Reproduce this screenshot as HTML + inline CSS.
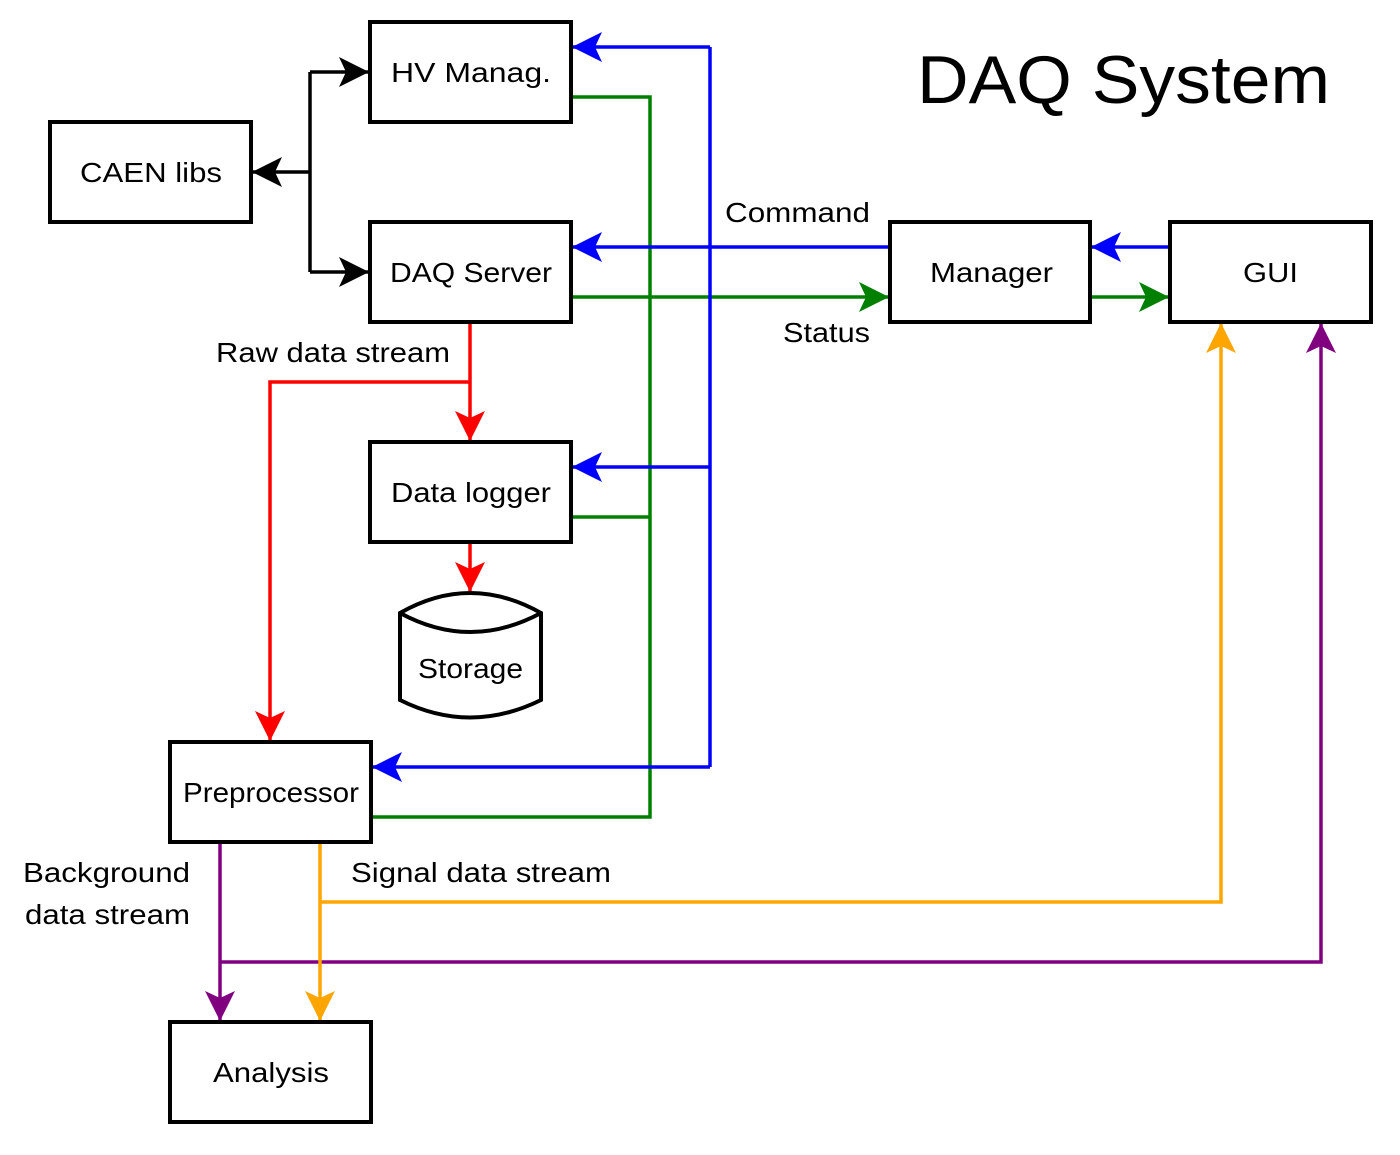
<!DOCTYPE html>
<html><head><meta charset="utf-8"><style>
html,body{margin:0;padding:0;background:#fff;}
svg text{font-family:"Liberation Sans",sans-serif;font-size:28px;fill:#000;}
</style></head><body>
<svg width="1400" height="1150" viewBox="0 0 1400 1150" xmlns="http://www.w3.org/2000/svg">
<defs>
<marker id="ak" viewBox="0 0 30 30" refX="29" refY="15" markerWidth="30" markerHeight="30" markerUnits="userSpaceOnUse" orient="auto"><path d="M0,0 L30,15 L0,30 L7,15 Z" fill="#000"/></marker>
<marker id="ab" viewBox="0 0 30 30" refX="29" refY="15" markerWidth="30" markerHeight="30" markerUnits="userSpaceOnUse" orient="auto"><path d="M0,0 L30,15 L0,30 L7,15 Z" fill="#0000ff"/></marker>
<marker id="ag" viewBox="0 0 30 30" refX="29" refY="15" markerWidth="30" markerHeight="30" markerUnits="userSpaceOnUse" orient="auto"><path d="M0,0 L30,15 L0,30 L7,15 Z" fill="#008000"/></marker>
<marker id="ar" viewBox="0 0 30 30" refX="29" refY="15" markerWidth="30" markerHeight="30" markerUnits="userSpaceOnUse" orient="auto"><path d="M0,0 L30,15 L0,30 L7,15 Z" fill="#ff0000"/></marker>
<marker id="ap" viewBox="0 0 30 30" refX="29" refY="15" markerWidth="30" markerHeight="30" markerUnits="userSpaceOnUse" orient="auto"><path d="M0,0 L30,15 L0,30 L7,15 Z" fill="#800080"/></marker>
<marker id="ao" viewBox="0 0 30 30" refX="29" refY="15" markerWidth="30" markerHeight="30" markerUnits="userSpaceOnUse" orient="auto"><path d="M0,0 L30,15 L0,30 L7,15 Z" fill="#ffa500"/></marker>
</defs>
<g fill="none" stroke-width="3.5">
<g stroke="#000">
<path d="M310,72 L310,272"/>
<path d="M310,172 L253,172" marker-end="url(#ak)"/>
<path d="M310,72 L368,72" marker-end="url(#ak)"/>
<path d="M310,272 L368,272" marker-end="url(#ak)"/>
</g>
<g stroke="#008000">
<path d="M571,97 L650,97 L650,817 L371,817"/>
<path d="M571,517 L650,517"/>
<path d="M571,297 L888,297" marker-end="url(#ag)"/>
<path d="M1090,297 L1168,297" marker-end="url(#ag)"/>
</g>
<g stroke="#0000ff">
<path d="M710,47 L710,767"/>
<path d="M890,247 L573,247" marker-end="url(#ab)"/>
<path d="M710,47 L573,47" marker-end="url(#ab)"/>
<path d="M710,467 L573,467" marker-end="url(#ab)"/>
<path d="M710,767 L373,767" marker-end="url(#ab)"/>
<path d="M1170,247 L1092,247" marker-end="url(#ab)"/>
</g>
<g stroke="#ff0000">
<path d="M470,322 L470,440" marker-end="url(#ar)"/>
<path d="M470,382 L270,382 L270,740" marker-end="url(#ar)"/>
<path d="M470,542 L470,591" marker-end="url(#ar)"/>
</g>
<g stroke="#800080">
<path d="M220,842 L220,1020" marker-end="url(#ap)"/>
<path d="M220,962 L1321,962 L1321,324" marker-end="url(#ap)"/>
</g>
<g stroke="#ffa500">
<path d="M320,842 L320,1020" marker-end="url(#ao)"/>
<path d="M320,902 L1221,902 L1221,324" marker-end="url(#ao)"/>
</g>
</g>
<g fill="#fff" stroke="#000" stroke-width="4">
<rect x="370" y="22" width="201" height="100"/>
<rect x="50" y="122" width="201" height="100"/>
<rect x="370" y="222" width="201" height="100"/>
<rect x="890" y="222" width="200" height="100"/>
<rect x="1170" y="222" width="201" height="100"/>
<rect x="370" y="442" width="201" height="100"/>
<rect x="170" y="742" width="201" height="100"/>
<rect x="170" y="1022" width="201" height="100"/>
<path d="M400,613 Q470,573 541,613 L541,700 Q470,735 400,700 Z"/>
<path d="M400,613 Q470,651 541,613" fill="none"/>
</g>
<g lengthAdjust="spacingAndGlyphs">
<text x="391" y="82" textLength="160" lengthAdjust="spacingAndGlyphs">HV Manag.</text>
<text x="80" y="182" textLength="142" lengthAdjust="spacingAndGlyphs">CAEN libs</text>
<text x="390" y="282" textLength="162" lengthAdjust="spacingAndGlyphs">DAQ Server</text>
<text x="930" y="282" textLength="123" lengthAdjust="spacingAndGlyphs">Manager</text>
<text x="1243" y="282" textLength="55" lengthAdjust="spacingAndGlyphs">GUI</text>
<text x="391" y="502" textLength="160" lengthAdjust="spacingAndGlyphs">Data logger</text>
<text x="418" y="678" textLength="105" lengthAdjust="spacingAndGlyphs">Storage</text>
<text x="183" y="802" textLength="176" lengthAdjust="spacingAndGlyphs">Preprocessor</text>
<text x="213" y="1082" textLength="116" lengthAdjust="spacingAndGlyphs">Analysis</text>
<text x="23" y="882" textLength="167" lengthAdjust="spacingAndGlyphs">Background</text>
<text x="25" y="924" textLength="165" lengthAdjust="spacingAndGlyphs">data stream</text>
<text x="725" y="222" textLength="145" lengthAdjust="spacingAndGlyphs">Command</text>
<text x="783" y="342" textLength="87" lengthAdjust="spacingAndGlyphs">Status</text>
<text x="216" y="362" textLength="234" lengthAdjust="spacingAndGlyphs">Raw data stream</text>
<text x="351" y="882" textLength="260" lengthAdjust="spacingAndGlyphs">Signal data stream</text>
</g>
<text x="917" y="103" style="font-size:68px" textLength="413" lengthAdjust="spacingAndGlyphs">DAQ System</text>
</svg>
</body></html>
